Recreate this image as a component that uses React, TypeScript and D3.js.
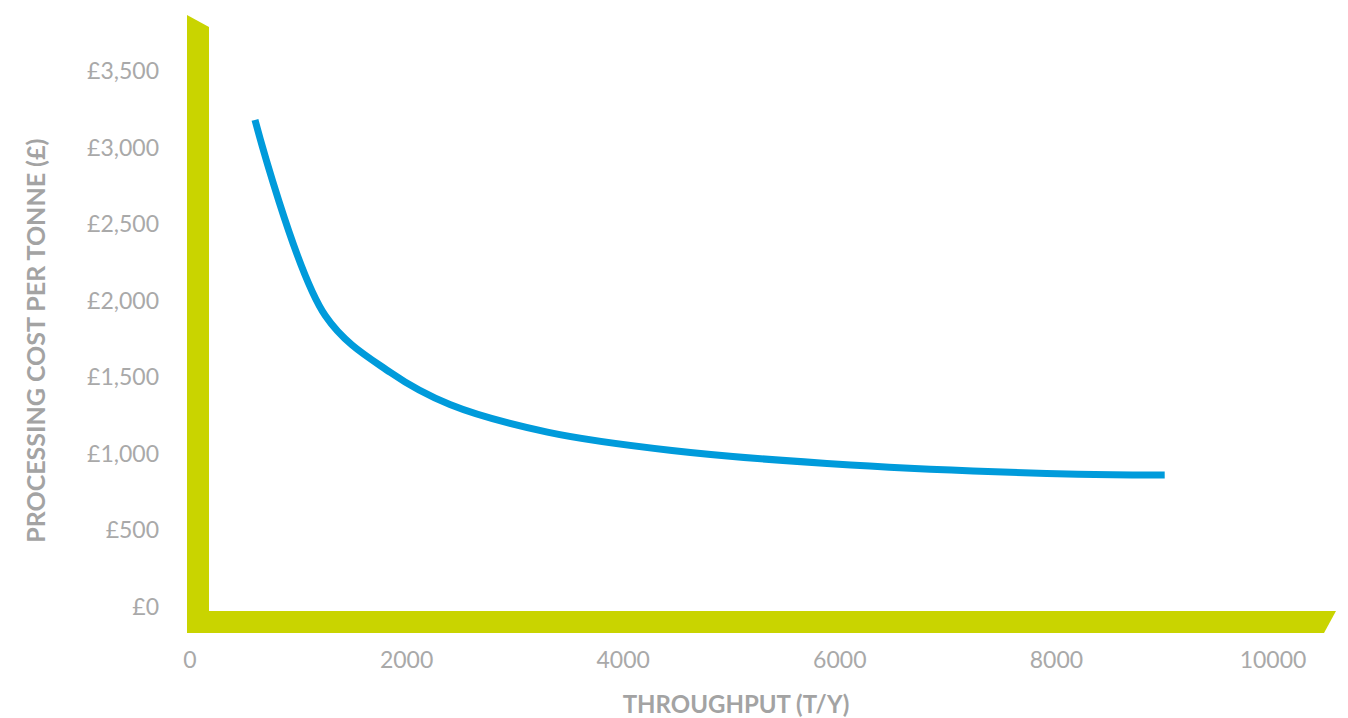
import React from "react";
import * as d3 from "d3";

// Processing cost per tonne against annual throughput
const throughput = [600, 1250, 1850, 2400, 3300, 4450, 6100, 8200, 9000];
const costPerTonne = [3180, 1900, 1530, 1320, 1140, 1020, 925, 865, 860];

const xTicks = [0, 2000, 4000, 6000, 8000, 10000];
const yTicks = [0, 500, 1000, 1500, 2000, 2500, 3000, 3500];

const xTitle = "THROUGHPUT (T/Y)";
const yTitle = "PROCESSING COST PER TONNE (£)";

const WIDTH = 1348;
const HEIGHT = 718;

const AXIS_GREEN = "#c9d400";
const LINE_BLUE = "#009bdb";
const LABEL_GREY = "#a9a9a9";
const TITLE_GREY = "#a3a3a3";

export default function App() {
  const x = d3.scaleLinear().domain([0, 10000]).range([190, 1273]);
  const y = d3.scaleLinear().domain([0, 3500]).range([606.5, 71]);

  const points: [number, number][] = throughput.map((t, i) => [t, costPerTonne[i]]);
  const line = d3
    .line<[number, number]>()
    .x((d) => x(d[0]))
    .y((d) => y(d[1]))
    .curve(d3.curveCatmullRom.alpha(0.5));

  // Thick slanted axis bars
  const barW = 22;
  const vLeft = x(0) - 3;
  const vRight = vLeft + barW;
  const hTop = y(0) + 4.5;
  const hBottom = hTop + barW;
  const hRight = 1336;
  const vTop = 15;

  const vBar = [
    [vLeft, vTop],
    [vRight, vTop + 12],
    [vRight, hTop],
    [vLeft, hTop],
  ];
  const hBar = [
    [vLeft, hTop],
    [hRight, hTop],
    [hRight - 12, hBottom],
    [vLeft, hBottom],
  ];
  const poly = (pts: number[][]) => pts.map((p) => p.join(",")).join(" ");

  const fmt = (v: number) => "£" + d3.format(",")(v);

  return (
    <svg
      width={WIDTH}
      height={HEIGHT}
      style={{ position: "absolute", left: 0, top: 0, background: "#fff" }}
      fontFamily="Lato, 'Open Sans', sans-serif"
    >
      <polygon points={poly(vBar)} fill={AXIS_GREEN} />
      <polygon points={poly(hBar)} fill={AXIS_GREEN} />

      {yTicks.map((v) => (
        <text
          key={"y" + v}
          x={159}
          y={y(v)}
          dy="0.36em"
          textAnchor="end"
          fontSize={23}
          fontWeight={400}
          fill={LABEL_GREY}
        >
          {fmt(v)}
        </text>
      ))}

      {xTicks.map((v) => (
        <text
          key={"x" + v}
          x={x(v)}
          y={668}
          textAnchor="middle"
          fontSize={23}
          fontWeight={400}
          fill={LABEL_GREY}
        >
          {v}
        </text>
      ))}

      <path
        d={line(points) ?? ""}
        fill="none"
        stroke={LINE_BLUE}
        strokeWidth={7}
        strokeLinejoin="round"
      />

      <text
        x={736}
        y={713}
        textAnchor="middle"
        fontSize={24}
        fontWeight={700}
        fill={TITLE_GREY}
      >
        {xTitle}
      </text>
      <text
        transform={`translate(45, ${(y(0) + y(3500)) / 2 + 2}) rotate(-90)`}
        textAnchor="middle"
        fontSize={25}
        fontWeight={700}
        fill={TITLE_GREY}
      >
        {yTitle}
      </text>
    </svg>
  );
}
